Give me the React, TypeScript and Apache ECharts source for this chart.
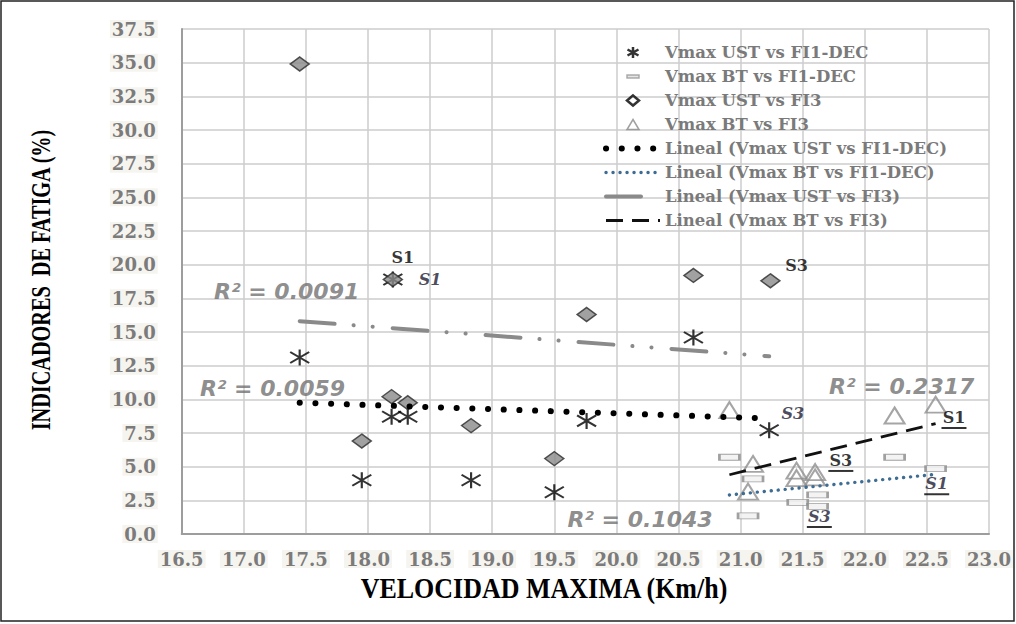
import React, { useEffect, useRef } from 'react';
import * as echarts from 'echarts';

// Axis ranges
const X_MIN = 16.5;
const X_MAX = 23.0;
const X_STEP = 0.5;
const Y_MIN = 0;
const Y_MAX = 37.5;
const Y_STEP = 2.5;

const seriesNames = [
  'Vmax UST vs FI1-DEC',
  'Vmax BT vs FI1-DEC',
  'Vmax UST vs FI3',
  'Vmax BT vs FI3',
  'Lineal (Vmax UST vs FI1-DEC)',
  'Lineal (Vmax BT vs FI1-DEC)',
  'Lineal (Vmax UST vs FI3)',
  'Lineal (Vmax BT vs FI3)',
];

// Observations: [velocidad maxima, indicador de fatiga]
const ustFi1Dec = [
  [17.45, 13.1], [17.95, 4.0], [18.2, 18.9], [18.19, 8.7], [18.32, 8.7],
  [18.83, 4.0], [19.5, 3.1], [19.76, 8.4], [20.62, 14.6], [21.23, 7.7],
];
const btFi1Dec = [
  [20.91, 5.7], [21.1, 4.1], [21.06, 1.35], [21.46, 2.35],
  [21.62, 2.9], [21.62, 2.05], [22.24, 5.7], [22.57, 4.85],
];
const ustFi3 = [
  [17.45, 34.9], [17.95, 6.9], [18.2, 18.9], [18.19, 10.2], [18.32, 9.75],
  [18.83, 8.05], [19.5, 5.6], [19.76, 16.3], [20.62, 19.2], [21.24, 18.8],
];
const btFi3 = [
  [20.91, 9.2], [21.1, 5.2], [21.06, 3.15], [21.45, 4.7], [21.45, 4.15],
  [21.6, 4.6], [21.6, 4.2], [22.24, 8.8], [22.57, 9.6],
];

// Linear trend segments, from first to last observation
const trendUstFi1Dec = [[17.45, 9.75], [21.23, 8.58]];
const trendBtFi1Dec = [[20.91, 2.9], [22.57, 4.43]];
const trendUstFi3 = [[17.45, 15.8], [21.23, 13.2]];
const trendBtFi3 = [[20.91, 4.4], [22.57, 8.2]];

// Coefficients of determination and where they sit
const r2Texts = ['R² = 0.0091', 'R² = 0.0059', 'R² = 0.2317', 'R² = 0.1043'];
const r2Anchors = [[17.345, 17.99], [17.231, 10.82], [22.297, 10.94], [20.19, 1.04]];

// Subject tags
const tagTexts = ['S1', 'S1', 'S3', 'S3', 'S1', 'S3', 'S1', 'S3'];
const tagKinds = ['b', 'i', 'b', 'i', 'bu', 'bu', 'iu', 'iu'];
const tagAnchors = [
  [18.28, 20.56], [18.5, 18.9], [21.45, 19.97], [21.42, 8.96],
  [22.718, 8.54], [21.807, 5.35], [22.579, 3.62], [21.634, 1.19],
];

const SERIF = 'DejaVu Serif';
const CLEAR = 'rgba(0,0,0,0)';

const asteriskPath = 'path://M9,0L9,16M0,2.5L18,13.5M0,13.5L18,2.5';
const legendIcons = [
  'path://M0,0M54,14M27,1.5L27,12.5M21.5,4L32.5,10M21.5,10L32.5,4',
  'path://M0,0M54,14M21,5.5L33,5.5L33,8.5L21,8.5Z',
  'path://M0,0M54,14M27,2L33,7L27,12L21,7Z',
  'path://M0,0M54,14M27,2L33,12L21,12Z',
];

// Trend line styles
const styleUstFi1Dec = { color: '#000', width: 6, type: [0.1, 15.6], cap: 'round' };
const styleBtFi1Dec = { color: '#3d6d94', width: 3.4, type: [0.1, 6.9], cap: 'round' };
const styleUstFi3 = { color: '#8a8a8a', width: 4, type: [35, 19, 0.1, 19, 0.1, 20], cap: 'round' };
const styleBtFi3 = { color: '#111', width: 2.8, type: [17, 9], cap: 'butt' };

const tagRich = {
  b: { fontFamily: SERIF, fontWeight: 'bold', fontSize: 16, color: '#000', lineHeight: 18 },
  i: { fontFamily: SERIF, fontWeight: 'bold', fontStyle: 'italic', fontSize: 16, color: '#1c1c33', lineHeight: 18 },
  u: { width: 25, height: 2, lineHeight: 3, backgroundColor: '#000' },
};

function tagFormat(text: string, kind: string) {
  const face = kind.charAt(0);
  return kind.length > 1 ? `{${face}|${text}}\n{u|\u00a0}` : `{${face}|${text}}`;
}

function trendSeries(name: string, data: number[][], lineStyle: any) {
  return {
    name,
    type: 'line',
    symbol: 'none',
    itemStyle: { color: CLEAR, borderWidth: 0 },
    lineStyle,
    data,
  };
}

function lineLegend(name: string, lineStyle: any) {
  return { name, itemStyle: { color: CLEAR, borderWidth: 0 }, lineStyle };
}

export default function App() {
  const ref = useRef<HTMLDivElement>(null);

  useEffect(() => {
    if (!ref.current) return;
    const chart = echarts.init(ref.current, undefined, { renderer: 'svg' });

    const axisLabel = {
      fontFamily: SERIF,
      fontWeight: 'bold',
      fontSize: 18,
      color: '#7b7b7b',
      backgroundColor: '#f6f4ef',
      padding: [0, 2],
      formatter: (v: number) => v.toFixed(1),
    };

    const option: any = {
      animation: false,
      backgroundColor: '#ffffff',
      grid: { left: 181.7, right: 27, top: 29, bottom: 90 },
      xAxis: {
        type: 'value',
        min: X_MIN,
        max: X_MAX,
        interval: X_STEP,
        axisLine: { show: true, lineStyle: { color: '#9d9d9d', width: 2 } },
        axisTick: { show: false },
        splitLine: { show: true, lineStyle: { color: '#cdcdcd', width: 1.5 } },
        axisLabel: { ...axisLabel, margin: 16, showMinLabel: true, showMaxLabel: true, hideOverlap: false },
      },
      yAxis: {
        type: 'value',
        min: Y_MIN,
        max: Y_MAX,
        interval: Y_STEP,
        axisLine: { show: true, lineStyle: { color: '#9d9d9d', width: 2 } },
        axisTick: { show: false },
        splitLine: { show: true, lineStyle: { color: '#cdcdcd', width: 1.5 } },
        axisLabel: { ...axisLabel, margin: 24, showMinLabel: true, showMaxLabel: true },
      },
      legend: {
        orient: 'vertical',
        left: 598,
        top: 39,
        itemWidth: 54,
        itemHeight: 14,
        itemGap: 7,
        selectedMode: false,
        textStyle: { fontFamily: SERIF, fontWeight: 'bold', fontSize: 16.5, color: '#7a7a7a' },
        data: [
          { name: seriesNames[0], icon: legendIcons[0], itemStyle: { color: CLEAR, borderColor: '#000', borderWidth: 2.5 } },
          { name: seriesNames[1], icon: legendIcons[1], itemStyle: { color: '#e0e0e0', borderColor: '#999', borderWidth: 1.5 } },
          { name: seriesNames[2], icon: legendIcons[2], itemStyle: { color: '#ffffff', borderColor: '#000', borderWidth: 2.5 } },
          { name: seriesNames[3], icon: legendIcons[3], itemStyle: { color: '#ffffff', borderColor: '#888', borderWidth: 1.5 } },
          lineLegend(seriesNames[4], styleUstFi1Dec),
          lineLegend(seriesNames[5], styleBtFi1Dec),
          lineLegend(seriesNames[6], styleUstFi3),
          lineLegend(seriesNames[7], styleBtFi3),
        ],
      },
      graphic: [
        {
          type: 'rect',
          silent: true,
          shape: { x: 1, y: 1, width: 1013, height: 620 },
          style: { fill: 'none', stroke: '#222', lineWidth: 1.5 },
        },
        {
          type: 'text',
          x: 41,
          y: 280,
          rotation: Math.PI / 2,
          scaleX: 0.75,
          silent: true,
          style: {
            text: 'INDICADORES  DE FATIGA (%)',
            font: 'bold 27px "Liberation Serif"',
            fill: '#000',
            align: 'center',
            verticalAlign: 'middle',
            textAlign: 'center',
            textVerticalAlign: 'middle',
          },
        },
        {
          type: 'text',
          x: 544,
          y: 588,
          scaleY: 1.15,
          silent: true,
          style: {
            text: 'VELOCIDAD MAXIMA (Km/h)',
            font: 'bold 26px "Liberation Serif"',
            fill: '#000',
            align: 'center',
            verticalAlign: 'middle',
            textAlign: 'center',
            textVerticalAlign: 'middle',
          },
        },
      ],
      series: [
        {
          name: seriesNames[0],
          type: 'scatter',
          symbol: asteriskPath,
          symbolSize: [19, 16],
          itemStyle: { color: CLEAR, borderColor: '#000', borderWidth: 2 },
          data: ustFi1Dec,
        },
        {
          name: seriesNames[1],
          type: 'scatter',
          symbol: 'rect',
          symbolSize: [20, 6],
          itemStyle: { color: '#f0f0f0', borderColor: '#8a8a8a', borderWidth: 1.5 },
          data: btFi1Dec,
        },
        {
          name: seriesNames[2],
          type: 'scatter',
          symbol: 'diamond',
          symbolSize: [19, 14],
          itemStyle: { color: '#8a8a8a', borderColor: '#2a2a2a', borderWidth: 1.5 },
          data: ustFi3,
        },
        {
          name: seriesNames[3],
          type: 'scatter',
          symbol: 'triangle',
          symbolSize: [20, 16],
          itemStyle: { color: 'rgba(255,255,255,0)', borderColor: '#8f8f8f', borderWidth: 2 },
          data: btFi3,
        },
        trendSeries(seriesNames[4], trendUstFi1Dec, styleUstFi1Dec),
        trendSeries(seriesNames[5], trendBtFi1Dec, styleBtFi1Dec),
        trendSeries(seriesNames[6], trendUstFi3, styleUstFi3),
        trendSeries(seriesNames[7], trendBtFi3, styleBtFi3),
        {
          name: 'r2',
          type: 'scatter',
          silent: true,
          symbolSize: 1,
          itemStyle: { color: CLEAR },
          label: {
            show: true,
            position: 'inside',
            fontFamily: 'DejaVu Sans',
            fontWeight: 'bold',
            fontStyle: 'italic',
            fontSize: 22,
            color: '#707070',
            formatter: (p: any) => p.name,
          },
          data: r2Texts.map((t, k) => ({ name: t, value: r2Anchors[k] })),
        },
        {
          name: 'tags',
          type: 'scatter',
          silent: true,
          symbolSize: 1,
          itemStyle: { color: CLEAR },
          label: { show: true, position: 'inside', align: 'center', rich: tagRich },
          data: tagTexts.map((t, k) => ({
            name: t,
            value: tagAnchors[k],
            label: { formatter: tagFormat(t, tagKinds[k]) },
          })),
        },
      ],
    };

    chart.setOption(option);
    return () => chart.dispose();
  }, []);

  return (
    <div
      ref={ref}
      style={{ position: 'absolute', left: 0, top: 0, width: 1016, height: 624 }}
    />
  );
}
